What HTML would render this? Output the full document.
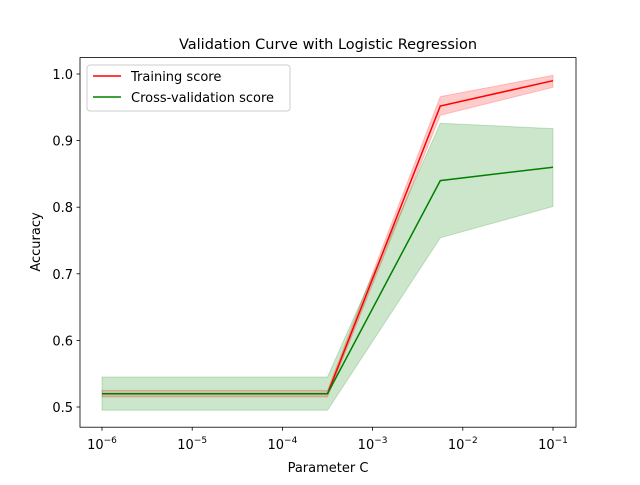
<!DOCTYPE html>
<html><head><style>body{margin:0;background:#fff}</style></head><body>
<svg width="640" height="480" xmlns="http://www.w3.org/2000/svg" font-family="DejaVu Sans, Liberation Sans, sans-serif">
<rect width="640" height="480" fill="#fff"/>
<polygon points="102,390.4 214.8,390.4 327.5,390.4 440.3,96.6 553,75.3 553,87.3 440.3,115.3 327.5,397 214.8,397 102,397" fill="red" fill-opacity="0.2" stroke="red" stroke-opacity="0.2"/>
<polygon points="102,377 214.8,377 327.5,377 440.3,123.3 553,128.6 553,206.5 440.3,237.8 327.5,410.3 214.8,410.3 102,410.3" fill="green" fill-opacity="0.2" stroke="green" stroke-opacity="0.2"/>
<polyline points="102,393.7 214.8,393.7 327.5,393.7 440.3,106 553,80.7" fill="none" stroke="red" stroke-width="1.5"/>
<polyline points="102,393.7 214.8,393.7 327.5,393.7 440.3,180.6 553,167.2" fill="none" stroke="green" stroke-width="1.5"/>
<rect x="80" y="57.6" width="496" height="369.6" fill="none" stroke="#000" stroke-width="0.8"/>
<g stroke="#000" stroke-width="0.8">
<line x1="80" x2="76.5" y1="407" y2="407"/><line x1="80" x2="76.5" y1="340.4" y2="340.4"/><line x1="80" x2="76.5" y1="273.8" y2="273.8"/><line x1="80" x2="76.5" y1="207.2" y2="207.2"/><line x1="80" x2="76.5" y1="140.6" y2="140.6"/><line x1="80" x2="76.5" y1="74" y2="74"/>
<line x1="102" x2="102" y1="427.2" y2="430.7"/><line x1="192.2" x2="192.2" y1="427.2" y2="430.7"/><line x1="282.4" x2="282.4" y1="427.2" y2="430.7"/><line x1="372.6" x2="372.6" y1="427.2" y2="430.7"/><line x1="462.8" x2="462.8" y1="427.2" y2="430.7"/><line x1="553" x2="553" y1="427.2" y2="430.7"/>
</g>
<g font-size="13" text-anchor="end">
<text x="73" y="412">0.5</text><text x="73" y="345.4">0.6</text><text x="73" y="278.8">0.7</text><text x="73" y="212.2">0.8</text><text x="73" y="145.6">0.9</text><text x="73" y="79">1.0</text>
</g>
<g font-size="13" text-anchor="middle">
<text x="102" y="449">10<tspan dy="-6" font-size="9">−6</tspan></text>
<text x="192.2" y="449">10<tspan dy="-6" font-size="9">−5</tspan></text>
<text x="282.4" y="449">10<tspan dy="-6" font-size="9">−4</tspan></text>
<text x="372.6" y="449">10<tspan dy="-6" font-size="9">−3</tspan></text>
<text x="462.8" y="449">10<tspan dy="-6" font-size="9">−2</tspan></text>
<text x="553" y="449">10<tspan dy="-6" font-size="9">−1</tspan></text>
<text x="328" y="472">Parameter C</text>
<text x="328" y="49" font-size="14.5">Validation Curve with Logistic Regression</text>
<text transform="translate(40,242) rotate(-90)">Accuracy</text>
</g>
<rect x="87" y="65" width="203" height="46" rx="3" fill="#fff" fill-opacity="0.8" stroke="#ccc"/>
<line x1="93" x2="121" y1="76" y2="76" stroke="red" stroke-width="1.5"/>
<line x1="93" x2="121" y1="97" y2="97" stroke="green" stroke-width="1.5"/>
<text x="131" y="81" font-size="13">Training score</text>
<text x="131" y="102" font-size="13">Cross-validation score</text>
</svg>
</body></html>
